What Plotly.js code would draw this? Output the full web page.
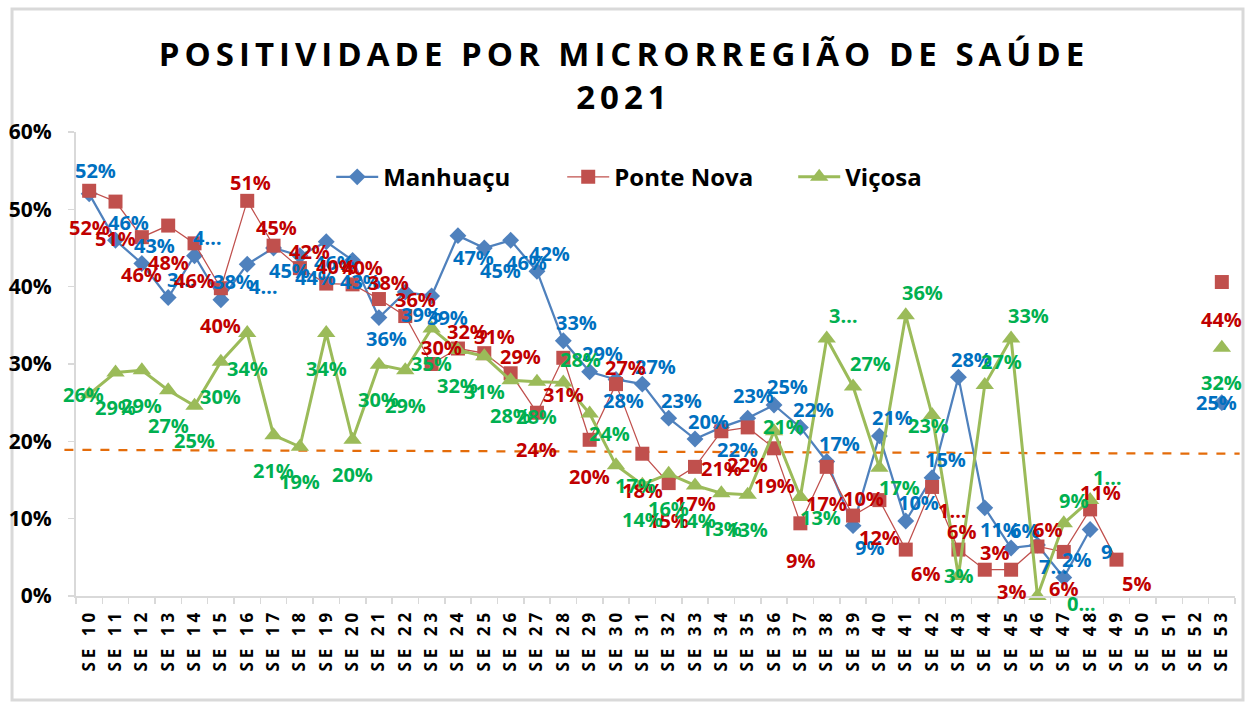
<!DOCTYPE html>
<html>
<head>
<meta charset="utf-8">
<script src="https://cdn.plot.ly/plotly-3.0.1.min.js"></script>
<style>
  html, body { margin: 0; padding: 0; background: #fff; }
  #chart { width: 1248px; height: 702px; }
  .gtitle { letter-spacing: 5px; }
  .xtick text { letter-spacing: 4px; }
</style>
</head>
<body>
<div id="chart"></div>
<script>
// ---- DATA ----
const categorias = ['SE 10','SE 11','SE 12','SE 13','SE 14','SE 15','SE 16','SE 17','SE 18','SE 19',
  'SE 20','SE 21','SE 22','SE 23','SE 24','SE 25','SE 26','SE 27','SE 28','SE 29',
  'SE 30','SE 31','SE 32','SE 33','SE 34','SE 35','SE 36','SE 37','SE 38','SE 39',
  'SE 40','SE 41','SE 42','SE 43','SE 44','SE 45','SE 46','SE 47','SE 48','SE 49',
  'SE 50','SE 51','SE 52','SE 53'];

const manhuacu = [52, 46, 43, 38.6, 44, 38.3, 42.9, 45, 44, 45.8,
  43.4, 36, 39.3, 38.8, 46.6, 45, 46, 42, 33, 29,
  28, 27.4, 23, 20.3, 21.8, 23, 24.7, 21.8, 17.4, 9.1,
  20.7, 9.7, 15.3, 28.3, 11.4, 6.2, 6.6, 2.4, 8.6, null,
  null, null, null, 25];

const ponteNova = [52.4, 51, 46.4, 47.9, 45.6, 39.8, 51.1, 45.3, 42.4, 40.4,
  40.3, 38.4, 36.2, 30, 32, 31.4, 28.8, 23.7, 30.8, 20.2,
  27.4, 18.4, 14.6, 16.7, 21.3, 21.8, 19.1, 9.4, 16.7, 10.4,
  12.4, 6, 14.1, 6, 3.4, 3.4, 6.4, 5.7, 11.2, 4.7,
  null, null, null, 40.6];

const vicosa = [26.1, 28.9, 29.2, 26.6, 24.6, 30.3, 34, 20.8, 19.3, 34,
  20.2, 29.9, 29.2, 34.6, 31.8, 31, 27.9, 27.7, 27.6, 23.6,
  16.9, 14.4, 15.8, 14.3, 13.3, 13.1, 21.3, 12.8, 33.3, 27.1,
  16.6, 36.3, 23.4, 2.6, 27.3, 33.3, 0, 9.4, 12.4, null,
  null, null, null, 32.1];

// reference line (left end, right end), in %
const limiar = [18.9, 18.4];

const yTicks = [0, 10, 20, 30, 40, 50, 60];

// label texts as printed in the original (truncated or differing)
const rotulosManhuacu = {'SE 13': '3…', 'SE 14': '4…', 'SE 16': '4…', 'SE 46': '7…', 'SE 48': '9'};
const rotulosPonteNova = {'SE 42': '1…', 'SE 53': '44%'};
const rotulosVicosa = {'SE 38': '3…', 'SE 46': '0…', 'SE 48': '1…'};

// ---- label placement (style) ----
const posManhuacu = ['t','tr','tr','tr','tr','tr','br','br','br','b',
  'b','b','br','br','br','br','br','tr','tr','tr',
  'b','tr','tr','tr','br','t','tr','tr','tr','br',
  'tr','tr','tr','tr','br','tr','br','tr','br','b',
  'b','b','b','l'];
const posPonteNova = ['b','b','b','b','b','b','t','t','tr','tr',
  'tr','tr','tr','tr','tr','tr','tr','b','b','b',
  'tr','b','b','b','b','b','b','b','b','tr',
  'b','br','br','t','tr','bs','tr','b','tr','br',
  'b','b','b','b'];
const posVicosa = ['l','b','b','b','b','b','b','b','b','b',
  'b','b','b','b','b','b','b','b','tr','br',
  'br','b','b','b','b','b','r','br','tr','tr',
  'br','tr','m','c','tr','tr','far','t','tr','b',
  'b','b','b','b'];

// label centre offset from the marker, px (x right, y down)
const offManhuacu = {t:[6,-23], tr:[13,-18], br:[16,22], b:[8,21], l:[-5,0]};
const offPonteNova = {t:[3,-18], tr:[10,-17], b:[0,37], bs:[0,22], br:[20,24]};
const offVicosa = {b:[0,35], tr:[17,-23], br:[20,20], t:[10,-23], l:[-6,0], r:[9,-5], c:[0,0], m:[-4,10], far:[44,7]};

const FONT = '"Open Sans", "Liberation Sans", sans-serif';

function rotulo(v, i, over) {
  if (over[categorias[i]] !== undefined) return over[categorias[i]];
  return Math.round(v) + '%';
}

function anotacoes(vals, over, pos, off, color) {
  const out = [];
  vals.forEach((v, i) => {
    if (v === null) return;
    const o = off[pos[i]] || [0, 30];
    out.push({
      x: categorias[i], y: v, xref: 'x', yref: 'y',
      text: rotulo(v, i, over), showarrow: false,
      xanchor: 'center', yanchor: 'middle',
      xshift: o[0], yshift: -o[1],
      font: {family: FONT, size: 20, color: color, weight: 'bold'}
    });
  });
  return out;
}

const traces = [
  {
    name: 'Manhuaçu', x: categorias, y: manhuacu, type: 'scatter', mode: 'lines+markers',
    line: {color: '#4F81BD', width: 2.25},
    marker: {symbol: 'diamond', size: 13, color: '#4F81BD'},
    cliponaxis: false, connectgaps: false, hoverinfo: 'skip'
  },
  {
    name: 'Ponte Nova', x: categorias, y: ponteNova, type: 'scatter', mode: 'lines+markers',
    line: {color: '#C0504D', width: 1.25},
    marker: {symbol: 'square', size: 14, color: '#C0504D'},
    cliponaxis: false, connectgaps: false, hoverinfo: 'skip'
  },
  {
    name: 'Viçosa', x: categorias, y: vicosa, type: 'scatter', mode: 'lines+markers',
    line: {color: '#9BBB59', width: 3},
    marker: {symbol: 'triangle-up', size: 16, color: '#9BBB59'},
    cliponaxis: false, connectgaps: false, hoverinfo: 'skip'
  }
];

const annotations = [].concat(
  anotacoes(manhuacu, rotulosManhuacu, posManhuacu, offManhuacu, '#0070C0'),
  anotacoes(ponteNova, rotulosPonteNova, posPonteNova, offPonteNova, '#C00000'),
  anotacoes(vicosa, rotulosVicosa, posVicosa, offVicosa, '#00B050')
);

const layout = {
  width: 1248, height: 702,
  margin: {l: 76, r: 13, t: 132, b: 106, autoexpand: false},
  paper_bgcolor: '#ffffff', plot_bgcolor: '#ffffff',
  font: {family: FONT, color: '#000'},
  title: {
    text: 'POSITIVIDADE POR MICRORREGIÃO DE SAÚDE<br>2021',
    font: {family: FONT, size: 33, color: '#000', weight: 'bold'},
    x: 0.5, xref: 'container', xanchor: 'center',
    y: 1 - 66/702, yref: 'container', yanchor: 'top',
    automargin: false
  },
  showlegend: true,
  legend: {
    orientation: 'h', x: 0.2202, xanchor: 'left',
    y: 0.951, yanchor: 'top',
    itemwidth: 42,
    entrywidth: 174, entrywidthmode: 'pixels',
    font: {family: FONT, size: 24, color: '#000', weight: 'bold'},
    bgcolor: 'rgba(0,0,0,0)'
  },
  xaxis: {
    type: 'category', range: [-0.5, 43.5], tickangle: -90,
    tickfont: {family: FONT, size: 17, color: '#000', weight: 'bold'},
    showgrid: false, zeroline: false,
    showline: true, linecolor: '#D9D9D9', linewidth: 2,
    ticks: 'outside', tickson: 'boundaries', ticklen: 6, tickcolor: '#D9D9D9', tickwidth: 1.5,
    ticklabelstandoff: 4, automargin: false,
    fixedrange: true
  },
  yaxis: {
    range: [0, 60], tickvals: yTicks, ticktext: yTicks.map(v => v + '%'),
    tickfont: {family: FONT, size: 21, color: '#000', weight: 'bold'},
    showgrid: false, zeroline: false,
    showline: true, linecolor: '#D9D9D9', linewidth: 2,
    ticks: 'outside', ticklen: 6, tickcolor: '#D9D9D9', tickwidth: 1.5,
    ticklabelstandoff: 12, automargin: false,
    fixedrange: true
  },
  annotations: annotations,
  shapes: [
    {type: 'line', xref: 'paper', yref: 'y', x0: -0.01, x1: 1.004, y0: limiar[0], y1: limiar[1],
     line: {color: '#E46C0A', width: 2.25, dash: 'dash'}, layer: 'below'},
    {type: 'rect', xref: 'paper', yref: 'paper', x0: -0.0552, x1: 1.0069, y0: -0.224, y1: 1.265,
     line: {color: '#D9D9D9', width: 3}, layer: 'below'}
  ]
};

Plotly.newPlot('chart', traces, layout, {displayModeBar: false, staticPlot: true});
</script>
</body>
</html>
